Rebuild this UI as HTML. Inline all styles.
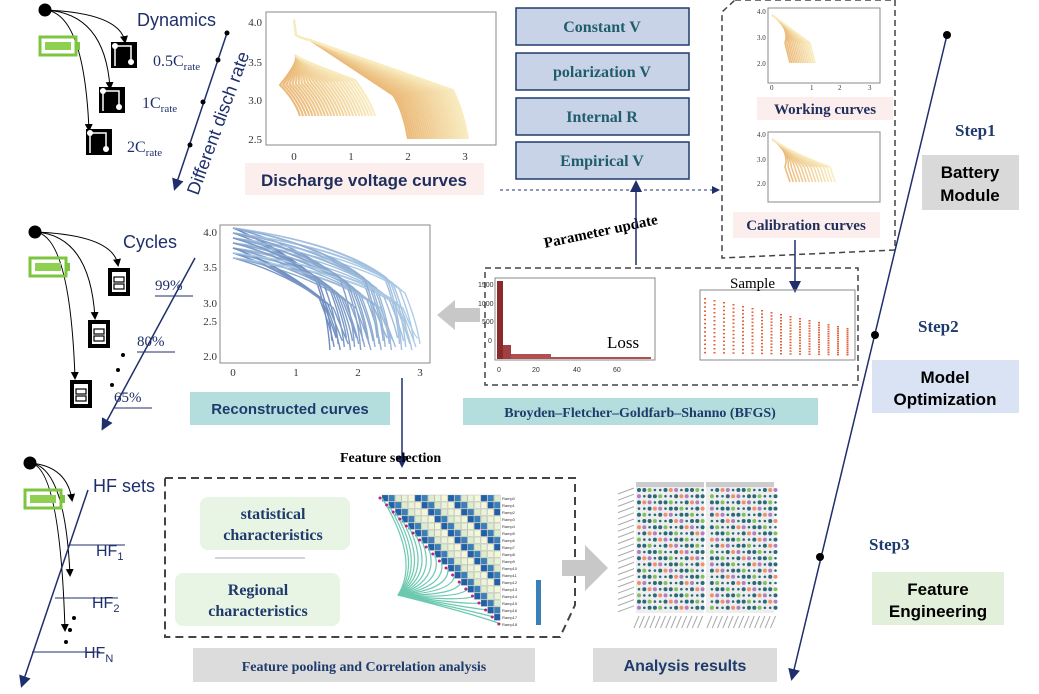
<!DOCTYPE html><html><head><style>
body{margin:0;background:#fff;}
svg{display:block;font-family:"Liberation Sans",sans-serif}
.sf{font-family:"Liberation Serif",serif}
</style></head><body>
<svg id="s" width="1039" height="694" viewBox="0 0 1039 694" xmlns="http://www.w3.org/2000/svg">
<defs>
<marker id="a" markerWidth="8" markerHeight="8" refX="6" refY="4" orient="auto"><path d="M0,0L8,4L0,8z" fill="#1f2f6b"/></marker>
<marker id="ak" markerWidth="8" markerHeight="8" refX="6" refY="4" orient="auto"><path d="M0,0L8,4L0,8z" fill="#000"/></marker>
</defs>
<g id="curves"></g>
<!-- Top chart -->
<rect x="266" y="12" width="230" height="133" fill="none" stroke="#888"/>
<g class="sf" font-size="11" fill="#333">
<text x="262" y="26" text-anchor="end">4.0</text><text x="262" y="66" text-anchor="end">3.5</text><text x="262" y="104" text-anchor="end">3.0</text><text x="262" y="143" text-anchor="end">2.5</text>
<text x="294" y="160" text-anchor="middle">0</text><text x="351" y="160" text-anchor="middle">1</text><text x="408" y="160" text-anchor="middle">2</text><text x="465" y="160" text-anchor="middle">3</text>
</g>
<rect x="245" y="163" width="239" height="32" fill="#fdeeee"/>
<text x="364" y="186" font-size="17" font-weight="bold" fill="#1f2f5b" text-anchor="middle">Discharge voltage curves</text>
<!-- boxes -->
<g class="sf" font-size="16" font-weight="bold" fill="#1f5d6b" text-anchor="middle">
<rect x="516" y="8" width="173" height="37" fill="#c9d3e8" stroke="#1f3b6b" stroke-width="1.5"/><text x="602" y="32">Constant V</text>
<rect x="516" y="53" width="173" height="37" fill="#c9d3e8" stroke="#1f3b6b" stroke-width="1.5"/><text x="602" y="77">polarization V</text>
<rect x="516" y="98" width="173" height="37" fill="#c9d3e8" stroke="#1f3b6b" stroke-width="1.5"/><text x="602" y="122">Internal R</text>
<rect x="516" y="142" width="173" height="37" fill="#c9d3e8" stroke="#1f3b6b" stroke-width="1.5"/><text x="602" y="166">Empirical V</text>
</g>
<line x1="500" y1="190" x2="718" y2="190" stroke="#1f2f6b" stroke-dasharray="3,3" marker-end="url(#a)"/>
<!-- right dashed box -->
<path d="M735,0 L895,0 L895,250 L722,258 L722,12 Z" fill="none" stroke="#444" stroke-dasharray="6,4" stroke-width="1.5"/>
<rect x="768" y="8" width="112" height="75" fill="none" stroke="#888"/>
<rect x="768" y="132" width="112" height="70" fill="none" stroke="#888"/>
<g class="sf" font-size="7" fill="#333"><text x="757" y="14">4.0</text><text x="757" y="40">3.0</text><text x="757" y="66">2.0</text><text x="770" y="90">0</text><text x="810" y="90">1</text><text x="838" y="90">2</text><text x="868" y="90">3</text>
<text x="757" y="137">4.0</text><text x="757" y="162">3.0</text><text x="757" y="186">2.0</text></g>
<rect x="757" y="97" width="136" height="23" fill="#fdeeee"/><text x="825" y="114" class="sf" font-size="15" font-weight="bold" fill="#1f2f5b" text-anchor="middle">Working curves</text>
<rect x="733" y="212" width="147" height="26" fill="#fdeeee"/><text x="806" y="230" class="sf" font-size="15" font-weight="bold" fill="#1f2f5b" text-anchor="middle">Calibration curves</text>
<line x1="795" y1="240" x2="795" y2="290" stroke="#1f2f6b" stroke-width="1.5" marker-end="url(#a)"/>
<!-- step line -->
<line x1="947" y1="35" x2="792" y2="678" stroke="#1f2f6b" stroke-width="1.5" marker-end="url(#a)"/>
<circle cx="947" cy="35" r="4"/><circle cx="875" cy="335" r="4"/><circle cx="820" cy="557" r="4"/>
<g class="sf" font-size="17" font-weight="bold" fill="#1f3b6b"><text x="955" y="136">Step1</text><text x="918" y="332">Step2</text><text x="869" y="550">Step3</text></g>
<rect x="922" y="155" width="97" height="55" fill="#d9d9d9"/><text x="970" y="178" font-size="17" font-weight="bold" text-anchor="middle">Battery</text><text x="970" y="201" font-size="17" font-weight="bold" text-anchor="middle">Module</text>
<rect x="872" y="360" width="147" height="53" fill="#dae3f3"/><text x="945" y="383" font-size="17" font-weight="bold" text-anchor="middle">Model</text><text x="945" y="405" font-size="17" font-weight="bold" text-anchor="middle">Optimization</text>
<rect x="872" y="572" width="132" height="53" fill="#e2efda"/><text x="938" y="595" font-size="17" font-weight="bold" text-anchor="middle">Feature</text><text x="938" y="617" font-size="17" font-weight="bold" text-anchor="middle">Engineering</text>
<!-- parameter update -->
<text x="545" y="248" class="sf" font-size="15" font-weight="bold" transform="rotate(-12 545 248)">Parameter update</text>
<line x1="636" y1="265" x2="636" y2="183" stroke="#1f2f6b" stroke-width="1.5" marker-end="url(#a)"/>
<!-- middle dashed -->
<rect x="485" y="268" width="373" height="117" fill="none" stroke="#444" stroke-dasharray="6,4" stroke-width="1.5"/>
<rect x="495" y="278" width="160" height="82" fill="none" stroke="#888"/>
<g font-size="7" fill="#333"><text x="478" y="287">1500</text><text x="478" y="306">1000</text><text x="482" y="324">500</text><text x="488" y="343">0</text><text x="497" y="372">0</text><text x="532" y="372">20</text><text x="573" y="372">40</text><text x="613" y="372">60</text></g>
<text x="607" y="348" class="sf" font-size="17">Loss</text>
<rect x="700" y="290" width="155" height="70" fill="none" stroke="#888"/>
<text x="730" y="288" class="sf" font-size="15">Sample</text>
<rect x="463" y="398" width="355" height="27" fill="#b4dede"/>
<text x="640" y="417" class="sf" font-size="14" font-weight="bold" fill="#1f3b6b" text-anchor="middle">Broyden–Fletcher–Goldfarb–Shanno (BFGS)</text>
<!-- reconstructed -->
<rect x="220" y="225" width="210" height="138" fill="none" stroke="#888"/>
<g class="sf" font-size="11" fill="#333"><text x="217" y="236" text-anchor="end">4.0</text><text x="217" y="271" text-anchor="end">3.5</text><text x="217" y="307" text-anchor="end">3.0</text><text x="217" y="325" text-anchor="end">2.5</text><text x="217" y="360" text-anchor="end">2.0</text>
<text x="233" y="376" text-anchor="middle">0</text><text x="296" y="376" text-anchor="middle">1</text><text x="358" y="376" text-anchor="middle">2</text><text x="420" y="376" text-anchor="middle">3</text></g>
<path d="M437,315 L455,300 L455,308 L480,308 L480,322 L455,322 L455,330 Z" fill="#c8c8c8"/>
<rect x="190" y="392" width="200" height="33" fill="#b4dede"/><text x="290" y="414" font-size="15" font-weight="bold" fill="#1f3b6b" text-anchor="middle">Reconstructed curves</text>
<line x1="402" y1="378" x2="402" y2="465" stroke="#1f2f6b" stroke-width="1.5" marker-end="url(#a)"/>
<text x="340" y="462" class="sf" font-size="14" font-weight="bold">Feature selection</text>
<!-- bottom dashed -->
<path d="M165,478 L575,478 L575,605 L560,637 L165,637 Z" fill="none" stroke="#444" stroke-dasharray="8,5" stroke-width="2"/>
<rect x="200" y="497" width="150" height="53" rx="8" fill="#e8f4e4"/>
<text x="273" y="519" class="sf" font-size="16" font-weight="bold" fill="#1f3b6b" text-anchor="middle">statistical</text><text x="273" y="540" class="sf" font-size="16" font-weight="bold" fill="#1f3b6b" text-anchor="middle">characteristics</text>
<line x1="215" y1="558" x2="305" y2="558" stroke="#aab"/>
<rect x="175" y="573" width="165" height="53" rx="8" fill="#e8f4e4"/>
<text x="258" y="595" class="sf" font-size="16" font-weight="bold" fill="#1f3b6b" text-anchor="middle">Regional</text><text x="258" y="616" class="sf" font-size="16" font-weight="bold" fill="#1f3b6b" text-anchor="middle">characteristics</text>
<g id="heat"></g>
<path d="M562,560 L585,560 L585,545 L608,568 L585,591 L585,576 L562,576 Z" fill="#c8c8c8"/>
<g id="dots"></g>
<rect x="193" y="648" width="342" height="34" fill="#dcdcdc"/><text x="364" y="671" class="sf" font-size="14" font-weight="bold" fill="#1f3b6b" text-anchor="middle">Feature pooling and Correlation analysis</text>
<rect x="593" y="648" width="184" height="34" fill="#dcdcdc"/><text x="685" y="671" font-size="16" font-weight="bold" fill="#1f3b6b" text-anchor="middle">Analysis results</text>
<!-- left trees -->
<g id="left" stroke="#000" fill="none"></g>
<g fill="#1f2f6b">
<text x="137" y="26" font-size="18">Dynamics</text>
<text x="153" y="66" class="sf" font-size="16">0.5C<tspan font-size="11" dy="4">rate</tspan></text>
<text x="142" y="108" class="sf" font-size="16">1C<tspan font-size="11" dy="4">rate</tspan></text>
<text x="127" y="152" class="sf" font-size="16">2C<tspan font-size="11" dy="4">rate</tspan></text>
<text x="123" y="248" font-size="18">Cycles</text>
<text x="155" y="290" class="sf" font-size="15">99%</text><text x="137" y="346" class="sf" font-size="15">80%</text><text x="114" y="402" class="sf" font-size="15">65%</text>
<text x="93" y="492" font-size="18">HF sets</text>
<text x="96" y="556" font-size="16">HF<tspan font-size="11" dy="4">1</tspan></text>
<text x="92" y="608" font-size="16">HF<tspan font-size="11" dy="4">2</tspan></text>
<text x="84" y="658" font-size="16">HF<tspan font-size="11" dy="4">N</tspan></text>
</g>
<text x="198" y="196" font-size="18" fill="#1f2f6b" transform="rotate(-70 198 196)">Different disch rate</text>
</svg>
<script>
var NS="http://www.w3.org/2000/svg";
function el(p,t,a){var e=document.createElementNS(NS,t);for(var k in a)e.setAttribute(k,a[k]);p.appendChild(e);return e;}
var C=document.getElementById("curves");
function lerpc(a,b,t){return "rgb("+a.map(function(v,i){return Math.round(v+(b[i]-v)*t)}).join(",")+")";}
var o1=[235,185,120],o2=[248,235,190];
for(var i=0;i<30;i++){var t=i/29,xe=408+t*60;el(C,"path",{d:"M294,20 L296,35 Q300,38 310,40 L"+(xe-15)+","+(95+t*-5)+" Q"+(xe-5)+",110 "+xe+",139",stroke:lerpc(o1,o2,t),fill:"none","stroke-width":"2"});}
for(var i=0;i<25;i++){var t=i/24,xe=300+t*75;el(C,"path",{d:"M295,55 Q300,60 "+(xe-20)+","+(85-t*5)+" Q"+(xe-5)+",100 "+xe+",116",stroke:lerpc(o1,o2,t),fill:"none","stroke-width":"2"});}
[[8,83],[132,202]].forEach(function(b){for(var i=0;i<15;i++){var t=i/14,xe=790+t*(b[0]<50?25:45);el(C,"path",{d:"M772,"+(b[0]+7)+" Q790,"+(b[0]+20)+" "+(xe-5)+","+(b[0]+35)+" L"+xe+","+(b[0]+(b[0]<50?55:50)),stroke:lerpc(o1,o2,t),fill:"none","stroke-width":"1.5"});}});
for(var i=0;i<45;i++){var t=(i*37%45)/44,xe=330+t*90,ys=228+(i%7)*5;el(C,"path",{d:"M233,"+ys+" Q"+(xe-60)+","+(ys+15)+" "+(xe-15)+","+(ys+50)+" Q"+(xe-3)+","+(ys+80)+" "+xe+","+(350-i%5*3),stroke:lerpc([110,140,190],[175,205,230],t),fill:"none","stroke-width":"1.4"});}
var L=C;
el(L,"rect",{x:497,y:281,width:6,height:78,fill:"#8b2a2a"});el(L,"rect",{x:503,y:345,width:8,height:14,fill:"#a04040"});el(L,"rect",{x:511,y:354,width:40,height:5,fill:"#b05050"});el(L,"rect",{x:551,y:357,width:100,height:2,fill:"#b05050"});
for(var j=0;j<16;j++){var x=704+j*9.5;for(var k=0;k<14;k++){el(L,"rect",{x:x,y:298+j*2+k*(58-j*2)/14,width:2,height:1.5,fill:"#e0603a"});}}
var H=document.getElementById("heat");
for(var r=0;r<19;r++)for(var c=r;c<18;c++){var v=(r*7+c*3)%5;el(H,"rect",{x:382+c*6.6,y:495+r*7,width:6,height:6.4,fill:["#2060a8","#dceccc","#f4f8d8","#3a80b8","#eaf4d8"][v],stroke:"#999","stroke-width":"0.3"});}
for(var r=0;r<19;r++){el(H,"path",{d:"M398,595 Q"+(420+r*3)+","+(560+r*3)+" "+(382+r*6.6)+","+(498+r*7),stroke:"#6cc9b0",fill:"none","stroke-width":"1.2"});el(H,"circle",{cx:380+r*6.6,cy:498+r*7,r:1.5,fill:"#c02080"});}
for(var r=0;r<19;r++){el(H,"text",{x:502,y:500+r*7,"font-size":"4",fill:"#333"}).textContent="Ramp"+r;}
el(H,"rect",{x:536,y:580,width:5,height:45,fill:"#3a80b8"});
var D=document.getElementById("dots");
el(D,"rect",{x:636,y:482,width:68,height:5,fill:"#ccc"});el(D,"rect",{x:706,y:482,width:68,height:5,fill:"#ccc"});
el(D,"rect",{x:636,y:487,width:68,height:126,fill:"#eee"});el(D,"rect",{x:706,y:487,width:68,height:126,fill:"#eee"});
var cols=["#2a6a7a","#2a6a7a","#2a6a7a","#f09070","#80c060","#b080c0"];
for(var r=0;r<20;r++)for(var c=0;c<26;c++){var x=639+c*5.3+(c>12?4:0),v=(r*5+c*11)%9;el(D,"circle",{cx:x,cy:490+r*6.2,r:v<6?2:1.3,fill:cols[v%6]});}
for(var r=0;r<20;r++){el(D,"line",{x1:618,y1:494+r*6.2,x2:634,y2:488+r*6.2,stroke:"#aaa","stroke-width":"1"});}
for(var c=0;c<26;c++){var x=639+c*5.3+(c>12?4:0);el(D,"line",{x1:x,y1:616,x2:x-5,y2:628,stroke:"#aaa","stroke-width":"1"});}
var G=document.getElementById("left");
function tree(x,y,targets,bat){el(G,"circle",{cx:x,cy:y,r:6,fill:"#000"});targets.forEach(function(t){el(G,"path",{d:"M"+x+","+y+" Q"+(t[0]-5)+","+(y+3)+" "+t[0]+","+t[1],"marker-end":"url(#ak)"});});
el(G,"rect",{x:x-5,y:bat,width:36,height:18,stroke:"#7dc540","stroke-width":"3",fill:"none"});el(G,"rect",{x:x,y:bat+5,width:26,height:8,fill:"#8fd050",stroke:"none"});el(G,"rect",{x:x+32,y:bat+5,width:3,height:8,fill:"#7dc540",stroke:"none"});}
tree(45,10,[[125,42],[110,88],[89,130]],37);
[[111,42],[99,87],[86,129]].forEach(function(p){el(G,"rect",{x:p[0],y:p[1],width:26,height:26,fill:"#000",stroke:"none"});el(G,"path",{d:"M"+(p[0]+4)+","+(p[1]+24)+" V"+(p[1]+4)+" H"+(p[0]+20)+" V"+(p[1]+20),stroke:"#fff","stroke-width":"1.5"});el(G,"circle",{cx:p[0]+4,cy:p[1]+4,r:3,fill:"#fff",stroke:"none"});el(G,"circle",{cx:p[0]+20,cy:p[1]+20,r:3,fill:"#fff",stroke:"none"});});
tree(35,232,[[118,265],[95,318],[75,378]],258);
[[108,268],[88,320],[70,380]].forEach(function(p){el(G,"rect",{x:p[0],y:p[1],width:22,height:28,fill:"#000",stroke:"none"});el(G,"rect",{x:p[0]+4,y:p[1]+4,width:14,height:20,fill:"#fff",stroke:"none"});el(G,"rect",{x:p[0]+6,y:p[1]+9,width:10,height:5,fill:"none",stroke:"#000","stroke-width":"1.2"});el(G,"rect",{x:p[0]+6,y:p[1]+16,width:10,height:5,fill:"none",stroke:"#000","stroke-width":"1.2"});});
tree(30,463,[[72,500],[70,575],[65,630]],490);
el(G,"line",{x1:195,y1:258,x2:103,y2:428,stroke:"#1f2f6b","stroke-width":"1.5","marker-end":"url(#a)"});
el(G,"line",{x1:155,y1:296,x2:193,y2:296,stroke:"#1f2f6b"});el(G,"line",{x1:137,y1:352,x2:175,y2:352,stroke:"#1f2f6b"});el(G,"line",{x1:114,y1:408,x2:152,y2:408,stroke:"#1f2f6b"});
el(G,"line",{x1:88,y1:490,x2:22,y2:685,stroke:"#1f2f6b","stroke-width":"1.5","marker-end":"url(#a)"});
el(G,"line",{x1:70,y1:545,x2:125,y2:545,stroke:"#1f2f6b"});el(G,"line",{x1:55,y1:598,x2:118,y2:598,stroke:"#1f2f6b"});el(G,"line",{x1:32,y1:652,x2:100,y2:652,stroke:"#1f2f6b"});
el(G,"line",{x1:227,y1:33,x2:175,y2:188,stroke:"#1f2f6b","stroke-width":"1.5","marker-end":"url(#a)"});
[[227,33],[218,60],[203,102],[190,145]].forEach(function(p){el(G,"circle",{cx:p[0],cy:p[1],r:2.5,fill:"#000",stroke:"none"});});
[[123,355],[118,370],[112,385],[74,618],[70,630],[66,642]].forEach(function(p){el(G,"circle",{cx:p[0],cy:p[1],r:2,fill:"#000",stroke:"none"});});
</script>
</body></html>
